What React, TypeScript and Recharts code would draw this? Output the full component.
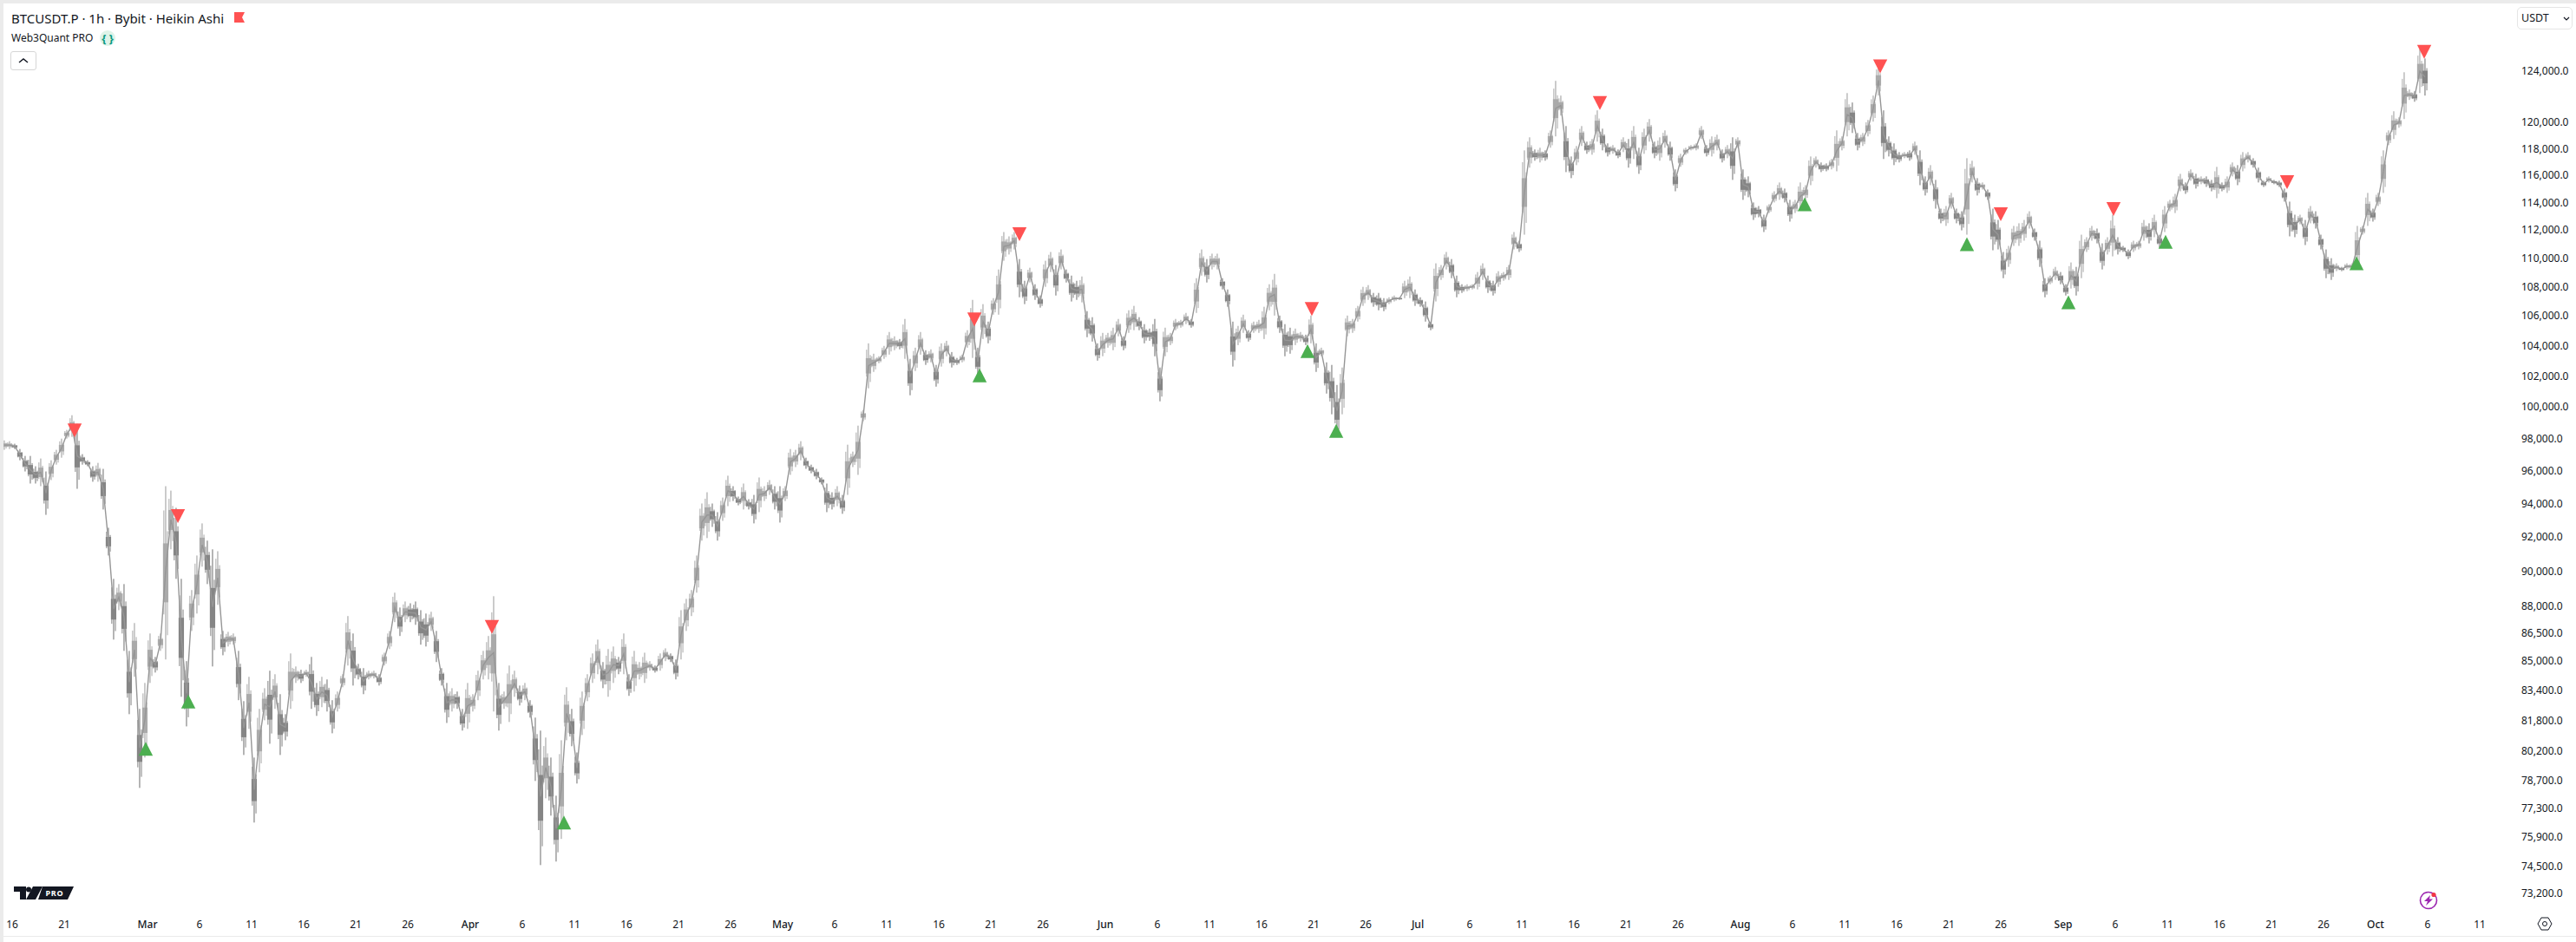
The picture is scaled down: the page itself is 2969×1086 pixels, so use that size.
import React from 'react';
import { ComposedChart, Bar, Line, Scatter, XAxis, YAxis } from 'recharts';

// Half-day columns of the hourly Heikin Ashi series, starting 0.75 day before Feb 16.
const highs = [
97860,97810,97650,97320,96890,96890,96250,96730,95930,96620,97270,97970,98520,99450,98900,97000,
96620,96250,96460,96090,92530,89550,89250,89250,85510,87050,82390,83770,86470,85180,86470,95030,
94760,93720,89550,84950,88910,90900,92790,91770,91260,91150,86610,86560,86470,85510,82800,84100,
79860,82390,83490,84430,84240,83170,82110,85370,84660,84480,84480,85180,83770,84100,83960,82850,
83310,84240,87440,86470,84800,84570,84430,84430,84240,85410,86610,88760,87920,88260,88160,88260,
87770,87580,87680,86610,84570,83770,83490,83310,82390,83770,83170,84430,85510,86330,88560,83770,
83310,84710,84430,83630,83770,82850,81930,81250,80890,79860,77930,80750,83540,82390,80120,83310,
84240,85370,86130,84900,85610,85750,85180,86470,84240,85510,84900,85410,84950,84710,85370,85650,
85370,85040,87770,88410,88910,90900,93980,94660,93980,93460,94340,95670,95030,94400,95190,94240,
94500,95560,95030,95400,95030,95030,95030,97320,97270,97810,96780,96350,96090,95560,95190,94660,
95030,94500,97590,97160,98790,99790,104140,103450,103280,103970,104900,104610,104430,105780,103110,103850,
104900,103680,103740,102710,104140,104310,103560,103170,103390,105020,107080,103850,106790,105600,107200,109190,
111840,111530,111840,109920,108400,109310,108160,107380,109800,110420,109500,110600,109190,108760,108400,108700,
106310,105900,104140,104840,104840,105190,105780,104610,106370,106670,105900,105430,105130,105780,102540,105190,
104840,105780,105720,106190,105780,108580,110600,109920,110300,110300,108580,107800,105600,105310,106070,105020,
105600,105720,106610,108160,108880,106010,105430,105190,105130,104900,104720,106010,104140,103850,102880,102710,
101400,102540,106010,105780,106670,107980,108100,107560,107560,107200,107260,107380,107260,108400,108700,107800,
107260,106970,105600,109620,109500,110420,109920,108760,108160,108160,108160,109010,109620,108760,108400,109070,
109010,109500,111840,111220,117850,118840,117920,118050,117850,119370,123220,122060,119700,117390,118180,119700,
118510,118710,120910,119500,118380,118250,117920,118840,118710,119700,118050,119500,120240,118510,118840,119370,
118510,116420,117590,118050,118250,118380,119700,118250,118910,119040,117920,118250,118840,118840,116420,115900,
113980,113720,113090,113850,114800,115450,115000,114170,114170,115450,115250,117390,117390,116940,116870,117200,
119370,118910,122260,121520,119170,119170,120170,122060,124460,120910,118910,118380,117720,117720,117850,118510,
117850,115900,116740,115640,113530,113720,114680,113530,113340,117260,117070,115770,115450,114930,113530,112710,
110420,110850,112280,112470,112710,113340,112090,111220,108580,108760,109370,109010,108160,109680,109370,111650,
111470,112280,112090,111030,111470,113090,111470,110850,110600,111220,111220,112710,112470,113090,111650,113720,
114170,114610,116090,115450,116420,116090,115900,115900,115640,116610,115450,115900,116940,116740,117720,117720,
117260,116550,115580,115900,115640,115580,115000,114040,113090,113090,112710,113720,113340,111650,110600,109980,
109620,109370,109620,109620,112280,112280,114680,113530,114680,117850,119370,120840,120370,123900,122540,122400,
125720,125000,
];
const lows = [
97270,97320,97320,96620,95930,95190,95190,95030,93300,95400,96350,96780,97970,98080,94870,96350,
96250,95300,95300,93620,90900,86130,87770,85510,82110,84100,78320,79860,83770,84330,85510,85040,
91260,89550,83030,81470,86610,87580,90250,89250,84660,88070,85270,85750,85850,82850,79990,81340,
76600,79110,81790,80570,82390,79990,80750,82390,83770,83770,84100,82390,82020,82480,82250,81110,
82250,83540,84710,83630,83960,83170,83960,84010,83630,84710,85610,87100,86330,87100,87100,86950,
85850,85750,86610,84900,83630,81650,82250,82390,81250,81340,82250,82850,83960,83960,82250,81250,
82390,81700,83030,82570,82850,81930,78670,74540,77800,76940,74710,75800,80750,80440,78540,81020,
82800,83770,84240,83490,83030,83770,84240,84240,83080,83310,83960,83770,84430,84330,84430,84950,
84900,83960,85040,86610,87440,88760,91770,91920,92580,91770,92940,93820,94130,93870,93620,93620,
92790,93460,94130,94500,93620,92840,94130,95720,96200,96620,96090,95820,95450,95140,93460,93620,
93820,93360,94500,96200,95720,99070,101180,102250,102820,103110,103390,103680,103740,103110,100730,102310,
103390,102710,102880,101290,102600,103280,102540,102710,102880,103850,103170,101970,104430,104140,106070,106070,
109800,110240,110600,107260,106790,108280,107080,106550,107980,109010,107380,109190,108280,106970,107080,106910,
104550,104260,102990,103280,103850,103680,104610,103680,104840,105020,105020,104140,104310,103280,100340,103280,
104020,105020,105190,105430,105190,106190,108760,108280,109190,109190,107800,106610,102600,104020,104840,104260,
104840,104840,104430,106370,106010,104840,103280,103450,104020,104260,104020,104140,102250,103280,100840,99510,
98080,99510,104610,104840,105600,106670,107080,106610,106370,106310,106790,106970,107080,107200,107200,106670,
106610,105600,105020,106970,108460,109190,108580,107260,107560,107680,107800,107800,108460,107560,107380,107980,
108400,108460,110600,110420,111650,116550,117070,116940,117070,118050,118910,120510,116220,115770,116740,118180,
117590,117520,118510,117850,117390,117590,117260,117720,116550,117200,116090,117590,118510,117260,117070,118050,
117070,114800,116610,117520,117850,117850,118710,117390,117390,117850,116940,117260,115640,118050,114170,114360,
112710,112900,111840,113210,113980,114170,113980,112590,113210,113400,114170,115250,116550,116220,116280,116420,
116280,117850,118910,119170,117850,118180,118910,120040,122060,117200,117390,116740,116940,117260,117070,117520,
115250,114490,115250,113530,112470,112280,113530,112470,111960,111650,115450,114490,114930,114170,110540,110600,
108580,109370,110850,110850,111220,112090,111220,109370,107260,108160,108460,108160,107380,107860,107380,108580,
110420,111220,111030,109190,110240,110110,110240,110420,109920,110420,110600,111220,111030,111470,110730,111840,
113340,113210,114800,114610,115580,115000,115320,115120,114800,114290,114800,114680,115900,115250,116280,116940,
116550,115450,115120,115450,115320,115120,114040,111530,111470,112400,110910,112470,112090,110600,108580,108460,
109070,109070,109190,109190,109190,111650,112280,112590,113720,114680,118250,118710,119570,120240,121720,121580,
122260,122060,
];

const redDays = [6, 15.92, 46.08, 92.42, 96.75, 124.83, 152.5, 179.42, 191, 201.83, 218.5, 231.67];
const redPrices = [98490, 93230, 86830, 105750, 111680, 106460, 121480, 124360, 113120, 113500, 115480, 125540];
const greenDays = [12.83, 16.92, 53, 92.92, 124.42, 127.17, 172.17, 187.75, 197.5, 206.83, 225.17];
const greenPrices = [80310, 82780, 76600, 102030, 103620, 98460, 113850, 110970, 106910, 111150, 109620];

const priceTicks = [124000, 120000, 118000, 116000, 114000, 112000, 110000, 108000, 106000, 104000, 102000, 100000, 98000, 96000, 94000, 92000, 90000, 88000, 86500, 85000, 83400, 81800, 80200, 78700, 77300, 75900, 74500, 73200];
const dayTicks = [0, 5, 13, 18, 23, 28, 33, 38, 44, 49, 54, 59, 64, 69, 74, 79, 84, 89, 94, 99, 105, 110, 115, 120, 125, 130, 135, 140, 145, 150, 155, 160, 166, 171, 176, 181, 186, 191, 197, 202, 207, 212, 217, 222, 227, 232, 237];
const dayLabels = ['16', '21', 'Mar', '6', '11', '16', '21', '26', 'Apr', '6', '11', '16', '21', '26', 'May', '6', '11', '16', '21', '26', 'Jun', '6', '11', '16', '21', '26', 'Jul', '6', '11', '16', '21', '26', 'Aug', '6', '11', '16', '21', '26', 'Sep', '6', '11', '16', '21', '26', 'Oct', '6', '11'];

const n = Math.min(highs.length, lows.length);
const candles = Array.from({ length: n }, (_, i) => {
  const mid = (highs[i] + lows[i]) / 2;
  const prev = i > 0 ? (highs[i - 1] + lows[i - 1]) / 2 : mid;
  return { day: -0.75 + 0.5 * i, range: [lows[i], highs[i]], mid, up: mid >= prev };
});
const reds = redDays.map((day, i) => ({ day, price: redPrices[i] }));
const greens = greenDays.map((day, i) => ({ day, price: greenPrices[i] }));

const FONT = '"Noto Sans", sans-serif';
const TEXT = '#131722';

const CandleShape = (p: any) => {
  const { x, y, width, height, payload } = p;
  const cx = x + width / 2;
  const fill = payload.up ? '#aaaaaa' : '#858585';
  return (
    <g fill={fill}>
      <rect x={cx - 0.6} y={y} width={1.2} height={Math.max(height, 1)} />
      <rect x={cx - 2.6} y={y + height * 0.14} width={1} height={Math.max(height * 0.6, 1)} />
      <rect x={cx + 1.6} y={y + height * 0.26} width={1} height={Math.max(height * 0.6, 1)} />
      <rect x={cx - 3.1} y={y + height * 0.33} width={6.2} height={Math.max(height * 0.34, 1.2)} />
    </g>
  );
};
const Down = (p: any) => (
  <path d={`M${p.cx - 8.2} ${p.cy - 8}L${p.cx + 8.2} ${p.cy - 8}L${p.cx} ${p.cy + 8}Z`} fill="#ff5252" />
);
const Up = (p: any) => (
  <path d={`M${p.cx - 8.2} ${p.cy + 8}L${p.cx + 8.2} ${p.cy + 8}L${p.cx} ${p.cy - 8}Z`} fill="#4caf50" />
);
const DayTick = (p: any) => {
  const idx = dayTicks.indexOf(p.payload.value);
  const label = dayLabels[idx];
  const month = /[A-Z]/.test(label);
  return (
    <text x={p.x} y={1065} textAnchor="middle" dominantBaseline="central" fontFamily={FONT} fontSize={12} fontWeight={month ? 500 : 400} fill={TEXT}>
      {label}
    </text>
  );
};
const PriceTick = (p: any) => (
  <text x={2906} y={p.y} dominantBaseline="central" fontFamily={FONT} fontSize={12} fill={TEXT}>
    {Number(p.payload.value).toLocaleString('en-US', { minimumFractionDigits: 1, maximumFractionDigits: 1 })}
  </text>
);

const abs = (left: number, top: number, extra: React.CSSProperties = {}): React.CSSProperties => ({ position: 'absolute', left, top, ...extra });

export default function App() {
  return (
    <div style={abs(0, 0, { width: 2969, height: 1086, background: '#fff', overflow: 'hidden', fontFamily: FONT, color: TEXT })}>
      <div style={abs(0, 0, { width: 2969, height: 4, background: '#ebebeb' })} />
      <div style={abs(0, 0, { width: 4, height: 1086, background: '#ebebeb' })} />
      <div style={abs(4, 1079, { width: 2965, height: 1, background: '#ebebeb' })} />
      <div style={abs(0, 0)}>
        <ComposedChart width={2969} height={1086} data={candles} margin={{ top: 12, right: 0, bottom: 0, left: 4 }} barCategoryGap={0}>
          <XAxis dataKey="day" type="number" scale="linear" domain={[-0.833, 240.833]} ticks={dayTicks} interval={0} height={38} axisLine={false} tickLine={false} tick={<DayTick />} allowDataOverflow />
          <YAxis orientation="right" scale="log" domain={[72470, 128909]} ticks={priceTicks} interval={0} width={65} axisLine={false} tickLine={false} tick={<PriceTick />} allowDataOverflow />
          <Bar dataKey="range" barSize={3} shape={<CandleShape />} isAnimationActive={false} />
          <Line dataKey="mid" stroke="#969696" strokeWidth={1.4} dot={false} isAnimationActive={false} />
          <Scatter data={reds} dataKey="price" shape={<Down />} isAnimationActive={false} />
          <Scatter data={greens} dataKey="price" shape={<Up />} isAnimationActive={false} />
        </ComposedChart>
      </div>

      <div style={abs(13, 11, { fontSize: 15, lineHeight: '20px', whiteSpace: 'nowrap' })}>BTCUSDT.P · 1h · Bybit · Heikin Ashi</div>
      <svg style={abs(270, 14)} width={12} height={12}><path d="M0 0H12L9 6L12 12H0Z" fill="#ff5252" /></svg>
      <div style={abs(13, 35, { fontSize: 12, lineHeight: '18px', whiteSpace: 'nowrap' })}>Web3Quant PRO</div>
      <svg style={abs(115, 35)} width={18} height={18}>
        <circle cx={9} cy={9} r={9} fill="#dff3e8" />
        <text x={9} y={9} textAnchor="middle" dominantBaseline="central" fontFamily={FONT} fontSize={13} fontWeight={700} fill="#089981">{'{ }'}</text>
      </svg>
      <div style={abs(12, 59, { width: 28, height: 20, border: '1px solid #d6d6d6', borderRadius: 3, boxSizing: 'content-box' })}>
        <svg width={28} height={20}><path d="M9 12L14 8L19 12" fill="none" stroke={TEXT} strokeWidth={1.5} /></svg>
      </div>
      <div style={abs(2901, 8, { width: 62, height: 24, border: '1px solid #e5e5e5', borderRadius: 5 })}>
        <div style={abs(4, 2, { fontSize: 12.5, lineHeight: '20px' })}>USDT</div>
        <svg style={abs(52, 8)} width={8} height={8}><path d="M1 3L4 6L7 3" fill="none" stroke={TEXT} strokeWidth={1.2} /></svg>
      </div>
      <svg style={abs(16, 1022)} width={70} height={16}>
        <path d="M0 0H14V15H7V6H0Z" fill="#131722" />
        <circle cx={17} cy={3.5} r={3} fill="#131722" />
        <path d="M22 0H33L25 15H14Z" fill="#131722" />
        <path d="M33 0H69L62 15H28Z" fill="#131722" />
        <text x={47} y={7.8} textAnchor="middle" dominantBaseline="central" fontFamily={FONT} fontSize={9} fontWeight={700} fill="#fff" letterSpacing={0.8}>PRO</text>
      </svg>
      <svg style={abs(2787, 1026)} width={24} height={24}>
        <circle cx={12} cy={12} r={9.5} fill="none" stroke="#9c27b0" strokeWidth={1.6} />
        <path d="M14 6L7 13H11L9 18L17 10.5H13Z" fill="#9c27b0" />
        <circle cx={18} cy={5.5} r={2.6} fill="#f23645" />
      </svg>
      <svg style={abs(2924, 1056)} width={18} height={18}>
        <path d="M5 2H13L17 9L13 16H5L1 9Z" fill="none" stroke={TEXT} strokeWidth={1} />
        <circle cx={9} cy={9} r={2.5} fill="none" stroke={TEXT} strokeWidth={1} />
      </svg>
    </div>
  );
}
